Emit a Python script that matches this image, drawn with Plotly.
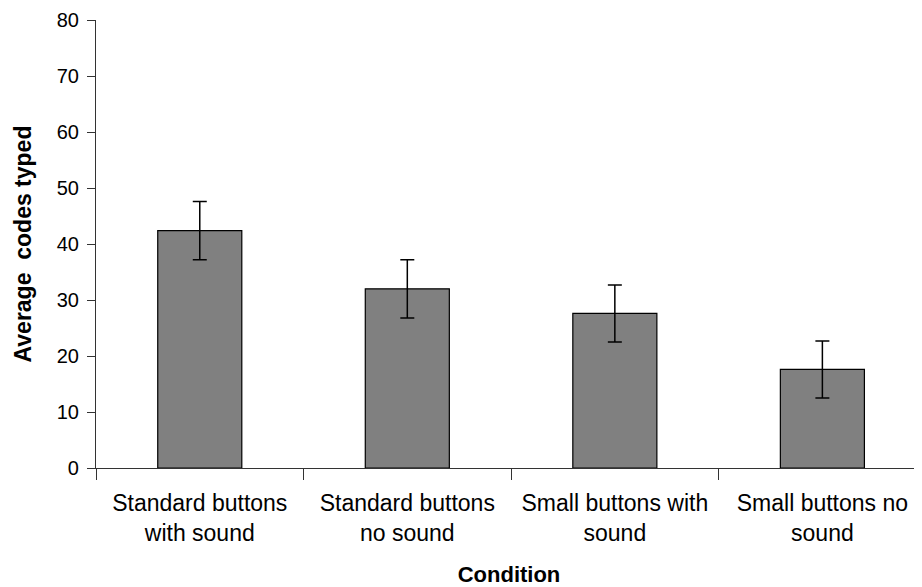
import plotly.graph_objects as go

categories = ["Standard buttons<br>with sound", "Standard buttons<br>no sound",
              "Small buttons with<br>sound", "Small buttons no<br>sound"]
values = [42.4, 32.0, 27.6, 17.6]
errors = [5.2, 5.2, 5.1, 5.1]
y_ticks = [0, 10, 20, 30, 40, 50, 60, 70, 80]

positions = list(range(len(categories)))
font_family = "Liberation Sans, Arial, sans-serif"

fig = go.Figure()
fig.add_trace(go.Bar(
    x=positions, y=values, width=0.405,
    marker=dict(color="#808080", line=dict(color="#000000", width=1.2)),
    error_y=dict(type="data", array=errors, visible=True, color="#000000",
                 thickness=1.5, width=7),
    showlegend=False,
))

fig.update_layout(
    width=914, height=579,
    margin=dict(l=88, r=0, t=12, b=119, autoexpand=False),
    paper_bgcolor="white", plot_bgcolor="white",
    font=dict(family=font_family, color="#000000", size=23),
)
fig.update_xaxes(
    range=[-0.5, 3.48], automargin=False,
    tickmode="array", tickvals=positions, ticktext=categories,
    ticks="", showgrid=False, zeroline=False,
    showline=True, linecolor="#333333", linewidth=1.2,
    tickfont=dict(size=23), ticklabelstandoff=14, ticklabeloverflow="allow",
    minor=dict(tick0=-0.5, dtick=1, ticks="outside", ticklen=11,
               tickcolor="#333333", tickwidth=1.2, showgrid=False),
    title=dict(text="<b>Condition</b>", font=dict(size=22), standoff=22),
)
fig.update_yaxes(
    range=[0, 80], tickmode="array", tickvals=y_ticks, automargin=False,
    ticks="outside", ticklen=8, tickcolor="#333333", tickwidth=1.2,
    showgrid=False, zeroline=False,
    showline=True, linecolor="#333333", linewidth=1.2,
    tickfont=dict(size=20), ticklabelstandoff=4, ticklabeloverflow="allow",
    title=dict(text="<b>Average  codes typed</b>", font=dict(size=23), standoff=18),
)

fig.write_html("out.html")
